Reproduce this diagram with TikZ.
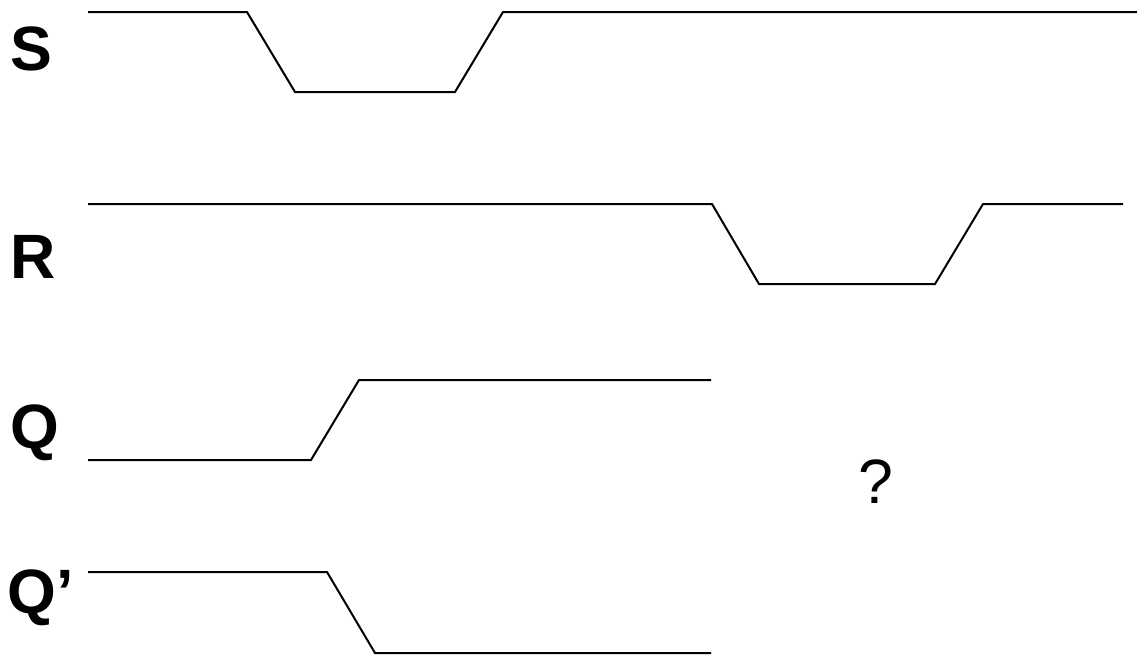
\documentclass[tikz,border=0pt]{standalone}
\usepackage{fontspec}
\setmainfont{Liberation Sans}
\begin{document}
\begin{tikzpicture}[x=0.75pt,y=0.75pt,yscale=-1,xscale=1]
\useasboundingbox (0,0) rectangle (1137,654);
\tikzset{wave/.style={line width=1.5pt, line join=miter},
         sig/.style={inner sep=0.75pt, font=\fontsize{47}{52}\selectfont\bfseries}}

%Shape: Waveform S
\draw [wave]  (88,12) -- (247,12) -- (295,92) -- (455,92) -- (503,12) -- (1137,12) ;
%Shape: Waveform R
\draw [wave]  (88,204) -- (712,204) -- (759,284) -- (935,284) -- (983,204) -- (1123,204) ;
%Shape: Waveform Q
\draw [wave]  (88,460) -- (311,460) -- (359,380) -- (711,380) ;
%Shape: Waveform Q'
\draw [wave]  (88,572) -- (327,572) -- (375,653) -- (711,653) ;

% Text Node
\draw (31,49) node [sig] (lblS)  {S};
% Text Node
\draw (33,257) node [sig] (lblR)  {R};
% Text Node
\draw (35,433) node [sig] (lblQ)  {Q};
% Text Node
\draw (41,598) node [sig] (lblQn)  {Q’};
% Text Node
\draw (876,482) node [inner sep=0.75pt, font=\fontsize{47}{52}\selectfont] (unk)  {?};
\end{tikzpicture}
\end{document}
